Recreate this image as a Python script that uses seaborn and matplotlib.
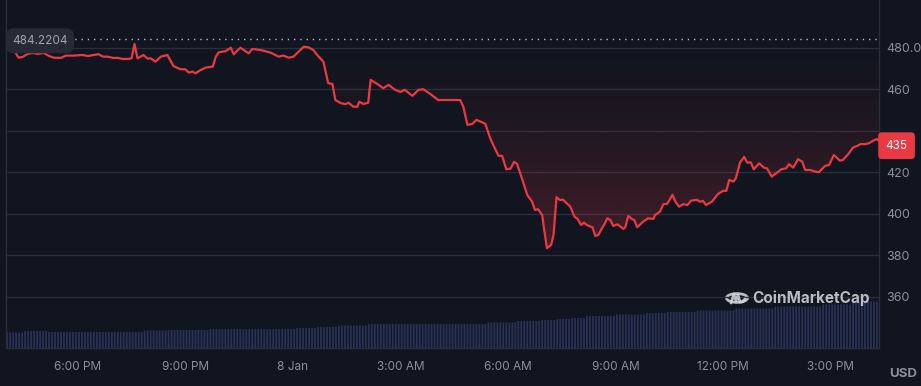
import numpy as np
import pandas as pd
import matplotlib
matplotlib.use('Agg')
import matplotlib.pyplot as plt
import matplotlib.dates as mdates
import matplotlib.transforms as mtransforms
from matplotlib.patches import Circle
from matplotlib.lines import Line2D
from matplotlib.ticker import FuncFormatter
import seaborn as sns

# --- data ---
start = pd.Timestamp('2024-01-07 16:00')
open_price = 484.2204

# minutes after start / price in USD
minutes = [1, 13, 21, 28, 36, 45, 53, 63, 72, 80, 92, 100, 113, 128, 137, 145, 155, 162, 170, 179,
           187, 195, 204, 210, 215, 220, 230, 237, 242, 250, 259, 270, 280, 292, 300, 306, 312, 317, 326, 334,
           346, 351, 356, 367, 376, 381, 392, 406, 412, 426, 443, 456, 464, 473, 481, 491, 498, 506, 514, 523,
           531, 539, 546, 551, 560, 568, 573, 581, 588, 591, 598, 606, 610, 621, 631, 640, 651, 660, 667, 680,
           690, 698, 710, 723, 738, 760, 765, 772, 780, 787, 794, 802, 810, 815, 824, 830, 837, 844, 850, 855,
           864, 872, 880, 885, 890, 897, 900, 905, 912, 916, 921, 926, 932, 944, 951, 956, 962, 967, 972, 981,
           986, 991, 997, 1002, 1006, 1011, 1016, 1023, 1033, 1036, 1041, 1048, 1051, 1056, 1066, 1074, 1083, 1086, 1094, 1100,
           1106, 1115, 1120, 1126, 1133, 1140, 1146, 1156, 1161, 1166, 1171, 1181, 1191, 1200, 1205, 1210, 1217, 1221, 1228, 1235,
           1240, 1246, 1251, 1260, 1268, 1273, 1281, 1290, 1297, 1305, 1310, 1317, 1325, 1332, 1337, 1345, 1354, 1360, 1370, 1377,
           1385, 1395, 1400, 1409, 1417, 1424, 1430, 1437, 1444, 1450, 1457, 1460]
prices = [484.2, 479.0, 475.3, 475.7, 477.1, 477.6, 477.1, 477.6, 476.1, 475.3, 475.2, 476.3, 476.3, 476.6, 476.1, 476.5, 477.0, 475.8, 475.8, 475.2,
          475.2, 474.7, 474.7, 475.0, 481.9, 475.0, 476.6, 474.8, 475.0, 473.4, 475.8, 476.6, 471.3, 469.7, 469.7, 468.1, 468.6, 467.8, 469.4, 470.5,
          471.0, 475.8, 477.9, 478.4, 480.1, 477.0, 480.1, 477.4, 479.5, 479.0, 477.7, 475.8, 476.3, 475.3, 475.8, 478.6, 480.6, 480.3, 479.0, 475.8,
          473.4, 463.0, 462.7, 454.9, 453.4, 452.9, 453.6, 451.7, 451.7, 454.1, 453.0, 453.6, 464.6, 462.7, 460.6, 462.2, 459.8, 458.8, 459.8, 456.9,
          459.8, 460.1, 457.8, 454.9, 454.9, 454.9, 451.7, 442.9, 443.4, 445.3, 444.5, 443.4, 436.5, 433.3, 428.0, 428.0, 421.5, 421.8, 425.1, 424.1,
          416.4, 409.2, 406.0, 401.9, 402.3, 399.5, 393.1, 383.5, 385.1, 389.9, 408.1, 406.8, 406.8, 403.5, 398.7, 397.7, 394.7, 395.8, 394.6, 393.6,
          389.4, 389.9, 393.1, 395.5, 397.9, 397.1, 394.2, 395.0, 392.8, 393.6, 399.0, 397.4, 397.1, 393.6, 396.3, 397.9, 397.6, 399.5, 401.1, 404.8,
          404.8, 409.2, 405.9, 403.5, 404.7, 404.3, 406.4, 406.8, 405.9, 406.3, 404.3, 405.9, 409.6, 411.2, 411.1, 416.4, 415.6, 417.2, 424.8, 427.5,
          424.7, 424.9, 421.5, 424.4, 422.3, 422.0, 418.0, 419.9, 421.5, 422.0, 424.0, 422.3, 426.4, 425.2, 421.2, 421.2, 420.4, 420.1, 423.1, 423.6,
          428.4, 425.7, 426.0, 428.8, 432.0, 432.8, 433.7, 433.6, 434.1, 435.2, 436.1, 435.3]

# volume (relative bar height), as runs of equal 5-minute bars
vol_levels = [15.5, 17, 16, 17.5, 18, 19, 20, 21, 22.5, 24, 25.5, 27, 28, 29, 30, 32, 33.5, 35, 36, 37.5, 39.5, 41.5, 43.5, 46.5]
vol_counts = [6, 8, 32, 8, 14, 29, 7, 7, 10, 40, 10, 8, 5, 5, 5, 10, 10, 7, 10, 13, 13, 16, 10, 9]

y_ticks = [360, 380, 400, 420, 440, 460, 480]
y_labels = ['360', '380', '400', '420', '', '460', '480.0']
x_tick_times = ['2024-01-07 18:00', '2024-01-07 21:00', '2024-01-08 00:00', '2024-01-08 03:00',
                '2024-01-08 06:00', '2024-01-08 09:00', '2024-01-08 12:00', '2024-01-08 15:00']

# --- style ---
BG = '#11151f'
GRID = '#2a2e3a'
RED = '#ea3943'
TXT = '#8a8f9d'

sns.set_theme(style='dark', rc={'figure.facecolor': BG, 'axes.facecolor': BG})
plt.rcParams['font.family'] = ['Inter', 'DejaVu Sans']

df = pd.DataFrame({'time': start + pd.to_timedelta(minutes, unit='min'), 'price': prices})
vol = pd.DataFrame({'height': np.repeat(vol_levels, vol_counts)})
vol['time'] = pd.date_range(start, periods=len(vol), freq='5min') + pd.Timedelta(minutes=2)

fig = plt.figure(figsize=(9.21, 3.86), dpi=100)
ax = fig.add_axes([6 / 921, 38 / 386, 873 / 921, 348 / 386])
ax2 = ax.twinx()
ax.set_zorder(ax2.get_zorder() + 1)
ax.patch.set_visible(False)
ax2.set_facecolor(BG)

# volume bars
bars = ax2.bar(mdates.date2num(vol['time']), vol['height'], width=5 / 1440 * 0.62,
               color='#283055', linewidth=0)
for b in bars:
    b.set_snap(False)
ax2.set_ylim(0, 348)
ax2.set_yticks([])
ax2.grid(False)
for s in ax2.spines.values():
    s.set_visible(False)

xmin = mdates.date2num(start)
xmax = mdates.date2num(start + pd.Timedelta(minutes=1460.5))
ymin, ymax = 335.4, 503.1

# gradient fill between price and opening price
poly = ax.fill_between(df['time'], df['price'], open_price, color='none', linewidth=0)
grad = np.linspace(ymax, ymin, 300)
t = np.clip((open_price - grad) / (open_price - 380), 0, None)
img = np.zeros((300, 1, 4))
img[:, 0, :3] = matplotlib.colors.to_rgb(RED)
img[:, 0, 3] = 0.24 * t ** 1.3
im = ax.imshow(img, extent=[xmin, xmax, ymin, ymax], aspect='auto', origin='upper', zorder=1)
im.set_clip_path(poly.get_paths()[0], transform=ax.transData)

sns.lineplot(data=df, x='time', y='price', ax=ax, color=RED, linewidth=1.6, zorder=3)
ax.axhline(open_price, color='#b8bcc6', linestyle=(0, (1, 3.5)), linewidth=1, zorder=2)

ax.set_xlim(xmin, xmax)
ax.set_ylim(ymin, ymax)
ax2.set_xlim(xmin, xmax)

# axes / grid
ax.yaxis.tick_right()
ax.set_yticks(y_ticks)
ax.set_yticklabels(y_labels)
ax.grid(axis='y', color=GRID, linewidth=1)
ax.grid(axis='x', visible=False)
ax.tick_params(axis='y', colors=TXT, labelsize=9, length=0, pad=5)
ax.tick_params(axis='x', colors=TXT, labelsize=8.5, length=0, pad=9)
ax.set_xticks(mdates.date2num(pd.to_datetime(x_tick_times)))


def fmt_time(x, pos):
    d = mdates.num2date(x)
    if d.hour == 0:
        return f'{d.day} Jan'
    return d.strftime('%I:%M %p').lstrip('0')


ax.xaxis.set_major_formatter(FuncFormatter(fmt_time))
ax.set_xlabel('')
ax.set_ylabel('')
for side in ['left', 'right', 'bottom']:
    ax.spines[side].set_visible(True)
    ax.spines[side].set_color('#2a2e3a')
    ax.spines[side].set_linewidth(1)
ax.spines['top'].set_visible(False)

# labels: opening price and last price
trans = mtransforms.blended_transform_factory(ax.transAxes, ax.transData)
ax.text(0.007, open_price - 0.8, f'{open_price:.4f}', transform=trans, ha='left', va='center',
        fontsize=8.5, color='#9ea3ae', zorder=6,
        bbox=dict(boxstyle='round,pad=0.55,rounding_size=0.7', fc='#262a35', ec='none'))
last = prices[-1]
ax.text(1.0075, last - 2.4, f'{last:.0f}', transform=trans, ha='left', va='center',
        fontsize=8.5, color='white', zorder=10, clip_on=False,
        bbox=dict(boxstyle='round,pad=0.62,rounding_size=0.3', fc=RED, ec='none'))

fig.text(917 / 921, 1 - 374 / 386, 'USD', ha='right', va='center', fontsize=9.5,
         fontweight='bold', color='#8a8f9d')

# watermark
logo_c = '#d6d9df'
cx, cy = 737, 298
fig.add_artist(Circle((cx / 921, 1 - cy / 386), 10.5 / 921, transform=fig.transFigure,
                      fill=False, ec=logo_c, lw=2, alpha=0.85))
mx = [cx - 6, cx - 3, cx - 1, cx + 1, cx + 3, cx + 5, cx + 8]
my = [cy + 5, cy - 4, cy + 3, cy - 3, cy + 4, cy + 4, cy + 1]
fig.add_artist(Line2D([v / 921 for v in mx], [1 - v / 386 for v in my], transform=fig.transFigure,
                      color=logo_c, lw=2, alpha=0.85, solid_joinstyle='round', solid_capstyle='round'))
fig.text(752 / 921, 1 - 298 / 386, 'CoinMarketCap', ha='left', va='center', fontsize=11,
         fontweight='bold', color=logo_c, alpha=0.85)

plt.savefig('out.png', dpi=100, facecolor=BG)
plt.close()
